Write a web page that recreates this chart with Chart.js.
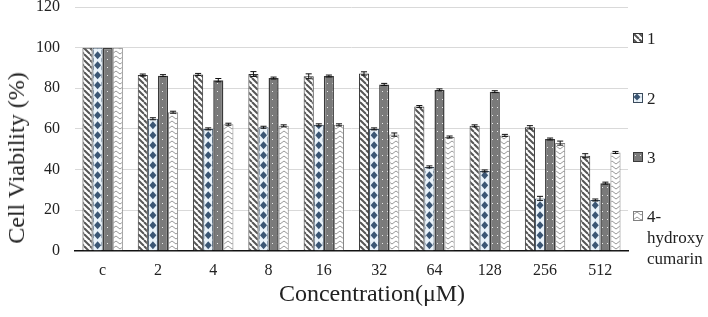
<!DOCTYPE html>
<html><head><meta charset="utf-8">
<script src="https://cdn.jsdelivr.net/npm/chart.js@4.4.1/dist/chart.umd.min.js"></script>
<style>
html,body{margin:0;padding:0;background:#fff}
#wrap{position:relative;width:708px;height:317px;font-family:'Liberation Serif','Times New Roman',serif;color:#222}
#legend{position:absolute;left:633px;top:0;font-size:17px;line-height:21px}
.it{position:absolute;left:0;white-space:nowrap}
.it canvas{position:absolute;left:0;top:5px}
.it span{position:absolute;left:14px;top:0}
.ttl{position:absolute;font-size:24px;line-height:28px;white-space:nowrap;transform:translate(-50%,-50%)}
#ytitle{left:16px;top:158px;transform:translate(-50%,-50%) rotate(-90deg)}
#xtitle{left:372px;top:293px}
</style>
</head><body><div id="wrap"><canvas id="c" width="708" height="317"></canvas><div id="legend"></div>
<div class="ttl" id="ytitle">Cell Viability (%)</div><div class="ttl" id="xtitle">Concentration(μM)</div></div>
<script>
const categories = ['c','2','4','8','16','32','64','128','256','512'];
const seriesNames = ['1','2','3','4-hydroxy cumarin'];
const legendLines = [['1'],['2'],['3'],['4-','hydroxy','cumarin']];
const s1 = [100, 86.5, 86.8, 87.0, 85.9, 87.3, 71.0, 61.5, 60.8, 46.8];
const s2 = [100, 65.0, 60.0, 60.8, 62.0, 60.0, 41.3, 39.3, 25.8, 25.0];
const s3 = [100, 86.2, 84.0, 85.0, 86.0, 81.9, 79.2, 78.3, 55.0, 33.3];
const s4 = [100, 68.2, 62.3, 61.5, 62.0, 57.2, 56.0, 56.8, 53.0, 48.4];
const e1 = [0, 0.5, 0.5, 1.2, 1.2, 0.8, 0.5, 0.5, 0.8, 1.0];
const e2 = [0, 0.5, 0.5, 0.5, 0.5, 0.5, 0.5, 0.5, 1.0, 0.5];
const e3 = [0, 0.5, 0.8, 0.5, 0.5, 0.5, 0.5, 0.5, 0.5, 0.5];
const e4 = [0, 0.5, 0.5, 0.5, 0.5, 0.8, 0.5, 0.5, 1.0, 0.5];
const yTicks = [0,20,40,60,80,100,120];

function tileCanvas(w,h,draw){const c=document.createElement('canvas');c.width=w;c.height=h;draw(c.getContext('2d'),w,h);return c;}
function pat(c){return document.getElementById('c').getContext('2d').createPattern(c,'repeat');}
const tStripes = tileCanvas(6,6,(g,w,h)=>{g.fillStyle='#fff';g.fillRect(0,0,w,h);g.strokeStyle='#555';g.lineWidth=2;
  for(const o of [-6,0,6]){g.beginPath();g.moveTo(o,0);g.lineTo(o+6,6);g.stroke();}});
const tDiam = tileCanvas(8,8,(g,w,h)=>{g.fillStyle='#e9f2f9';g.fillRect(0,0,w,h);g.fillStyle='#3b5674';g.beginPath();g.moveTo(4,0.5);g.lineTo(7.5,4);g.lineTo(4,7.5);g.lineTo(0.5,4);g.closePath();g.fill();});
const tDots = tileCanvas(5,8,(g,w,h)=>{g.fillStyle='#7a7a7a';g.fillRect(0,0,w,h);g.fillStyle='#e8e8e8';g.fillRect(2,3,1,1);});
const tChev = tileCanvas(8,5,(g,w,h)=>{g.fillStyle='#fff';g.fillRect(0,0,w,h);g.strokeStyle='#999';g.lineWidth=1;g.beginPath();g.moveTo(0,4);g.lineTo(4,1);g.lineTo(8,4);g.stroke();});
const tiles=[tStripes,tDiam,tDots,tChev];
const borders=['#333','#3b4b5c','#3a3a3a','#808080'];

const errs=[e1,e2,e3,e4];
const diamondPlugin={id:'diam',afterDatasetDraw(chart,args){
  if(args.index!==1)return;const ctx=chart.ctx;const meta=chart.getDatasetMeta(1);
  meta.data.forEach(b=>{const l=b.x-b.width/2+1,r=b.x+b.width/2-1,top=b.y+1,bot=b.base;
    ctx.save();ctx.beginPath();ctx.rect(l,top,r-l,bot-top);ctx.clip();
    ctx.fillStyle='#e9f2f9';ctx.fillRect(l,top,r-l,bot-top);
    ctx.fillStyle='#3b5674';
    for(let y=bot-5;y>top-6;y-=10){ctx.beginPath();ctx.moveTo(b.x,y-4);ctx.lineTo(b.x+3.5,y);ctx.lineTo(b.x,y+4);ctx.lineTo(b.x-3.5,y);ctx.closePath();ctx.fill();}
    ctx.restore();});
}};
const errPlugin={id:'err',afterDatasetsDraw(chart){
  const ctx=chart.ctx;const ys=chart.scales.y;ctx.save();ctx.strokeStyle='#111';ctx.lineWidth=1;
  chart.data.datasets.forEach((ds,di)=>{const meta=chart.getDatasetMeta(di);
    meta.data.forEach((b,i)=>{const e=errs[di][i];if(!e)return;const v=ds.data[i];
      const y1=ys.getPixelForValue(v+e),y2=ys.getPixelForValue(v-e);const hw=b.width*0.3;
      ctx.beginPath();ctx.moveTo(b.x,y1);ctx.lineTo(b.x,y2);ctx.moveTo(b.x-hw,y1);ctx.lineTo(b.x+hw,y1);ctx.moveTo(b.x-hw,y2);ctx.lineTo(b.x+hw,y2);ctx.stroke();});});
  ctx.restore();}};

// HTML legend
const legTops=[28,88,147,206];
const leg=document.getElementById('legend');
legendLines.forEach((lines,i)=>{const d=document.createElement('div');d.className='it';d.style.top=legTops[i]+'px';
  const bc=document.createElement('canvas');bc.width=10;bc.height=10;const g=bc.getContext('2d');
  g.fillStyle=g.createPattern(tiles[i],'repeat');g.fillRect(0,0,10,10);g.strokeStyle=borders[i];g.lineWidth=1;g.strokeRect(0.5,0.5,9,9);
  d.appendChild(bc);const sp=document.createElement('span');sp.innerHTML=lines.join('<br>');d.appendChild(sp);leg.appendChild(d);});

const serif="'Liberation Serif','Times New Roman',serif";
Chart.defaults.font.family=serif;
new Chart(document.getElementById('c'),{
  type:'bar',
  data:{labels:categories,datasets:[
    {label:seriesNames[0],data:s1,backgroundColor:pat(tStripes),borderColor:borders[0],borderWidth:1},
    {label:seriesNames[1],data:s2,backgroundColor:pat(tDiam),borderColor:borders[1],borderWidth:1},
    {label:seriesNames[2],data:s3,backgroundColor:pat(tDots),borderColor:borders[2],borderWidth:1.5},
    {label:seriesNames[3],data:s4,backgroundColor:pat(tChev),borderColor:borders[3],borderWidth:1}
  ]},
  plugins:[diamondPlugin,errPlugin],
  options:{responsive:false,animation:false,
    layout:{padding:{top:0,right:80,left:21,bottom:35}},
    datasets:{bar:{categoryPercentage:0.73,barPercentage:1}},
    plugins:{tooltip:{enabled:false},legend:{display:false}},
    scales:{
      x:{grid:{display:false},border:{color:'#111',width:1.5},
        ticks:{color:'#222',padding:2,font:{family:serif,size:16}}},
      y:{min:0,max:120,afterBuildTicks(ax){ax.ticks=yTicks.map(v=>({value:v}));},
        afterFit(s){s.paddingTop=7;s.paddingBottom=0;},
        grid:{color:'#d9d9d9',drawTicks:false},border:{display:false},
        ticks:{color:'#222',padding:15,font:{family:serif,size:16}}}
    }}
});
</script></body></html>
